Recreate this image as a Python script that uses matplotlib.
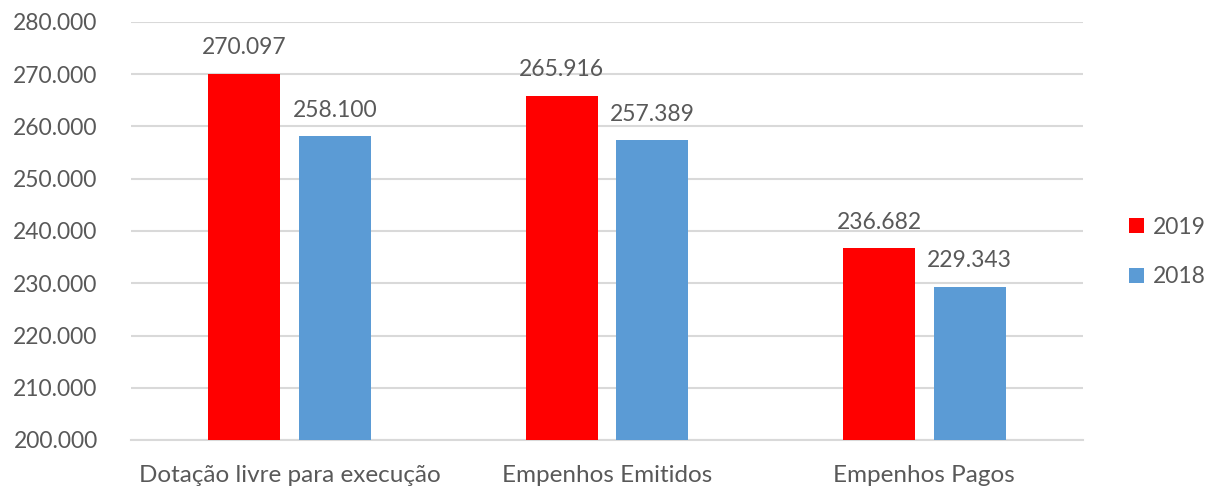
import matplotlib.pyplot as plt
import numpy as np

plt.rcParams['font.family'] = ['Lato', 'DejaVu Sans']

categories = ['Dotação livre para execução', 'Empenhos Emitidos', 'Empenhos Pagos']
series_names = ['2019', '2018']
values_2019 = [270097, 265916, 236682]
values_2018 = [258100, 257389, 229343]

colors = ['#FF0000', '#5B9BD5']
text_color = '#595959'


def fmt(v):
    return f'{v:,.0f}'.replace(',', '.')


fig = plt.figure(figsize=(12.09, 4.87), dpi=100)
ax = fig.add_axes([131 / 1209, 1 - 440 / 487, (1083 - 131) / 1209, (440 - 22) / 487])

x = np.arange(len(categories))
width = 0.227
offset = 0.143

for vals, name, color, sign in [(values_2019, series_names[0], colors[0], -1),
                                (values_2018, series_names[1], colors[1], 1)]:
    bars = ax.bar(x + sign * offset, vals, width, color=color, label=name, zorder=3)
    for b, v in zip(bars, vals):
        ax.annotate(fmt(v), (b.get_x() + b.get_width() / 2, v),
                    xytext=(0, 11), textcoords='offset points',
                    ha='center', va='bottom', fontsize=16.5, color=text_color)

ax.set_xlim(-0.5, len(categories) - 0.5)
ax.set_ylim(200000, 280000)
yt = np.arange(200000, 280001, 10000)
ax.set_yticks(yt, labels=[fmt(v) for v in yt])
ax.set_xticks(x, labels=categories)
ax.tick_params(axis='both', length=0, labelsize=16.5, colors=text_color)
ax.tick_params(axis='x', labelsize=17.5, pad=18)
ax.tick_params(axis='y', pad=24)
ax.yaxis.grid(True, color='#D9D9D9', linewidth=1.5, zorder=0)
for s in ['top', 'right', 'left']:
    ax.spines[s].set_visible(False)
ax.spines['bottom'].set_color('#D9D9D9')
ax.spines['bottom'].set_linewidth(1.5)

leg = ax.legend(loc='center left', bbox_to_anchor=(1.027, 0.45), frameon=False,
                fontsize=16.5, handlelength=0.62, handleheight=0.62,
                handletextpad=0.4, labelspacing=1.25)
for t in leg.get_texts():
    t.set_color(text_color)

fig.savefig('out.png', dpi=100)
